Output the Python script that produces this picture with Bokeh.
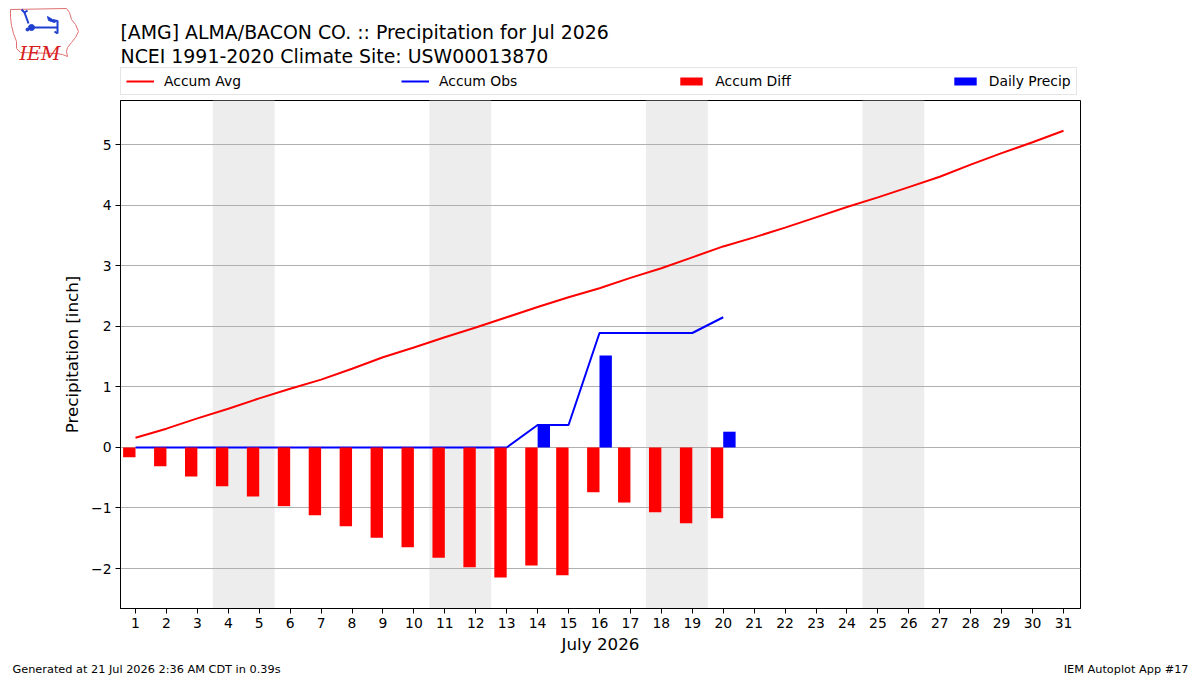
import datetime

import numpy as np
from bokeh.core.properties import value
from bokeh.embed import file_html
from bokeh.layouts import column
from bokeh.models import (BoxAnnotation, CustomJSTickFormatter, FixedTicker,
                          Legend, LegendItem, Range1d)
from bokeh.plotting import figure
from bokeh.resources import INLINE

# ---- data ---------------------------------------------------------------
YEAR, MONTH = 2026, 7
days = list(range(1, 32))
accum_avg = [0.16, 0.31, 0.48, 0.64, 0.81, 0.97, 1.12, 1.30, 1.49, 1.65,
             1.82, 1.98, 2.15, 2.32, 2.48, 2.63, 2.80, 2.96, 3.14, 3.32,
             3.47, 3.63, 3.80, 3.97, 4.13, 4.30, 4.47, 4.67, 4.86, 5.04,
             5.23]
obs_days = list(range(1, 21))
daily_precip = [0, 0, 0, 0, 0, 0, 0, 0, 0, 0,
                0, 0, 0, 0.37, 0, 1.52, 0, 0, 0, 0.26]
y_ticks = [-2, -1, 0, 1, 2, 3, 4, 5]

title_1 = "[AMG] ALMA/BACON CO. :: Precipitation for Jul 2026"
title_2 = "NCEI 1991-2020 Climate Site: USW00013870"
footer_left = "Generated at 21 Jul 2026 2:36 AM CDT in 0.39s"
footer_right = "IEM Autoplot App #17"
legend_labels = ["Accum Avg", "Accum Obs", "Accum Diff", "Daily Precip"]

accum_obs = np.cumsum(daily_precip)
accum_diff = accum_obs - np.array(accum_avg[:len(obs_days)])

FONT = "DejaVu Sans"
W = 1200
HEAD_H, MAIN_H, FOOT_H = 98, 560, 17
LINE_W = 2
COLORS = dict(avg="red", obs="blue", diff="red", precip="blue")


def blank_panel(height, y_top):
    """A figure whose data units are page pixels (y grows downward)."""
    f = figure(width=W, height=height, output_backend="svg",
               toolbar_location=None, x_axis_type=None, y_axis_type=None,
               x_range=Range1d(0, W),
               y_range=Range1d(y_top + height, y_top),
               min_border=0)
    f.frame_align = False
    f.outline_line_color = None
    f.xgrid.grid_line_color = None
    f.ygrid.grid_line_color = None
    f.background_fill_color = "white"
    f.border_fill_color = "white"
    return f


# ---- main chart ---------------------------------------------------------
p = figure(width=W, height=MAIN_H, output_backend="svg",
           toolbar_location=None,
           x_range=Range1d(0.515, 31.55), y_range=Range1d(-2.66, 5.73),
           min_border_left=120, min_border_right=120,
           min_border_top=100 - HEAD_H, min_border_bottom=50)
p.frame_align = False
p.background_fill_color = "white"
p.border_fill_color = "white"
p.outline_line_color = "black"
p.outline_line_width = 1

# weekend shading
weekend = [d for d in days if datetime.date(YEAR, MONTH, d).weekday() >= 5]
spans = []
for d in weekend:
    if spans and spans[-1][1] == d - 1:
        spans[-1][1] = d
    else:
        spans.append([d, d])
for a, b in spans:
    p.add_layout(BoxAnnotation(left=a - 0.5, right=b + 0.5,
                               fill_color="#ededed", fill_alpha=1.0,
                               line_alpha=0, level="image"))

p.xgrid.grid_line_color = None
p.ygrid.grid_line_color = "#b0b0b0"
p.ygrid.grid_line_width = 1
p.xaxis.ticker = FixedTicker(ticks=days)
p.yaxis.ticker = FixedTicker(ticks=y_ticks)
p.yaxis.formatter = CustomJSTickFormatter(
    code="return tick < 0 ? '\u2212' + Math.abs(tick) : '' + tick;")
for ax in (p.xaxis[0], p.yaxis[0]):
    ax.axis_line_color = "black"
    ax.major_tick_line_color = "black"
    ax.major_tick_out = 5
    ax.major_tick_in = 0
    ax.minor_tick_line_color = None
    ax.major_label_text_font = FONT
    ax.major_label_text_font_size = "13.9px"
    ax.major_label_text_color = "black"
    ax.major_label_standoff = 4
    ax.axis_label_text_font = FONT
    ax.axis_label_text_font_size = "16.7px"
    ax.axis_label_text_font_style = "normal"
    ax.axis_label_text_color = "black"
p.xaxis.axis_label = "July 2026"
p.xaxis.axis_label_standoff = 3
p.yaxis.axis_label = "Precipitation [inch]"
p.yaxis.axis_label_standoff = 6

p.line(days, accum_avg, line_color=COLORS["avg"], line_width=LINE_W)
p.line(obs_days, accum_obs, line_color=COLORS["obs"], line_width=LINE_W)
p.vbar(x=[d - 0.2 for d in obs_days], top=accum_diff, bottom=0,
       width=0.4, fill_color=COLORS["diff"], line_color=None)
p.vbar(x=[d + 0.2 for d in obs_days], top=daily_precip, bottom=0,
       width=0.4, fill_color=COLORS["precip"], line_color=None)

# ---- header: logo, titles and legend -----------------------------------
h = blank_panel(HEAD_H, 0)
h.text(x=[120, 120], y=[31, 55], text=[title_1, title_2],
       text_font=value(FONT), text_font_size="18.9px",
       text_baseline="alphabetic", text_color="black")

# legend swatches: renderers carrying the styles, with no drawable points
nan2 = np.array([np.nan, np.nan])
k_avg = h.line(nan2, nan2, line_color=COLORS["avg"], line_width=LINE_W)
k_obs = h.line(nan2, nan2, line_color=COLORS["obs"], line_width=LINE_W)
k_diff = h.vbar(x=nan2, top=nan2, width=1, fill_color=COLORS["diff"],
                line_color=None)
k_prec = h.vbar(x=nan2, top=nan2, width=1, fill_color=COLORS["precip"],
                line_color=None)
legend = Legend(items=[LegendItem(label=lab, renderers=[r])
                       for lab, r in zip(legend_labels,
                                         [k_avg, k_obs, k_diff, k_prec])],
                orientation="horizontal", location=(120, HEAD_H - 95),
                spacing=160, padding=5, margin=0,
                glyph_width=28, glyph_height=10, label_height=16,
                label_standoff=10, label_text_font=FONT,
                label_text_font_size="13.9px", label_text_color="black",
                border_line_color="#cccccc", border_line_width=1,
                background_fill_color="white", background_fill_alpha=1)
h.add_layout(legend, "center")

# logo: state outline, wind vane and lettering
outline_x = [10, 66, 69, 71, 75, 78, 75, 71, 67, 66, 67, 62, 56, 20, 16, 16,
             13, 11, 10, 10]
outline_y = [9, 8, 12, 19, 24, 31, 37, 42, 47, 51, 56, 54, 53, 52, 48, 41,
             33, 25, 17, 9]
h.line(outline_x, outline_y, line_color="#e07070", line_width=1)
vane = "#1f3fd0"
h.multi_line(xs=[[31, 57], [28, 24], [21, 24, 27], [57, 57], [54, 57]],
             ys=[[27, 27], [23, 12], [9, 12, 10], [20, 33], [31, 33]],
             line_color=vane, line_width=2)
h.patch([47, 52, 57, 54, 48], [16, 19, 20, 22, 20], fill_color=vane,
        line_color=vane)
h.scatter([31], [27], size=6, marker="circle", fill_color=vane,
          line_color=vane)
h.scatter([27], [29], size=3, marker="circle", fill_color=vane,
          line_color=vane)
h.text(x=[19], y=[52], text=["IEM"], text_font=value("DejaVu Serif"),
       text_font_style="italic", text_font_size="19px",
       text_color="#d82020", text_baseline="alphabetic")

# ---- footer --------------------------------------------------------------
ft = blank_panel(FOOT_H, HEAD_H + MAIN_H)
ft.text(x=[12], y=[669], text=[footer_left], text_font=value(FONT),
        text_font_size="11.3px", text_baseline="alphabetic")
ft.text(x=[1188], y=[669], text=[footer_right], text_font=value(FONT),
        text_font_size="11.3px", text_baseline="alphabetic",
        text_align="right")

page = column(h, p, ft, spacing=0)
open("out.html", "w").write(file_html(page, INLINE))
